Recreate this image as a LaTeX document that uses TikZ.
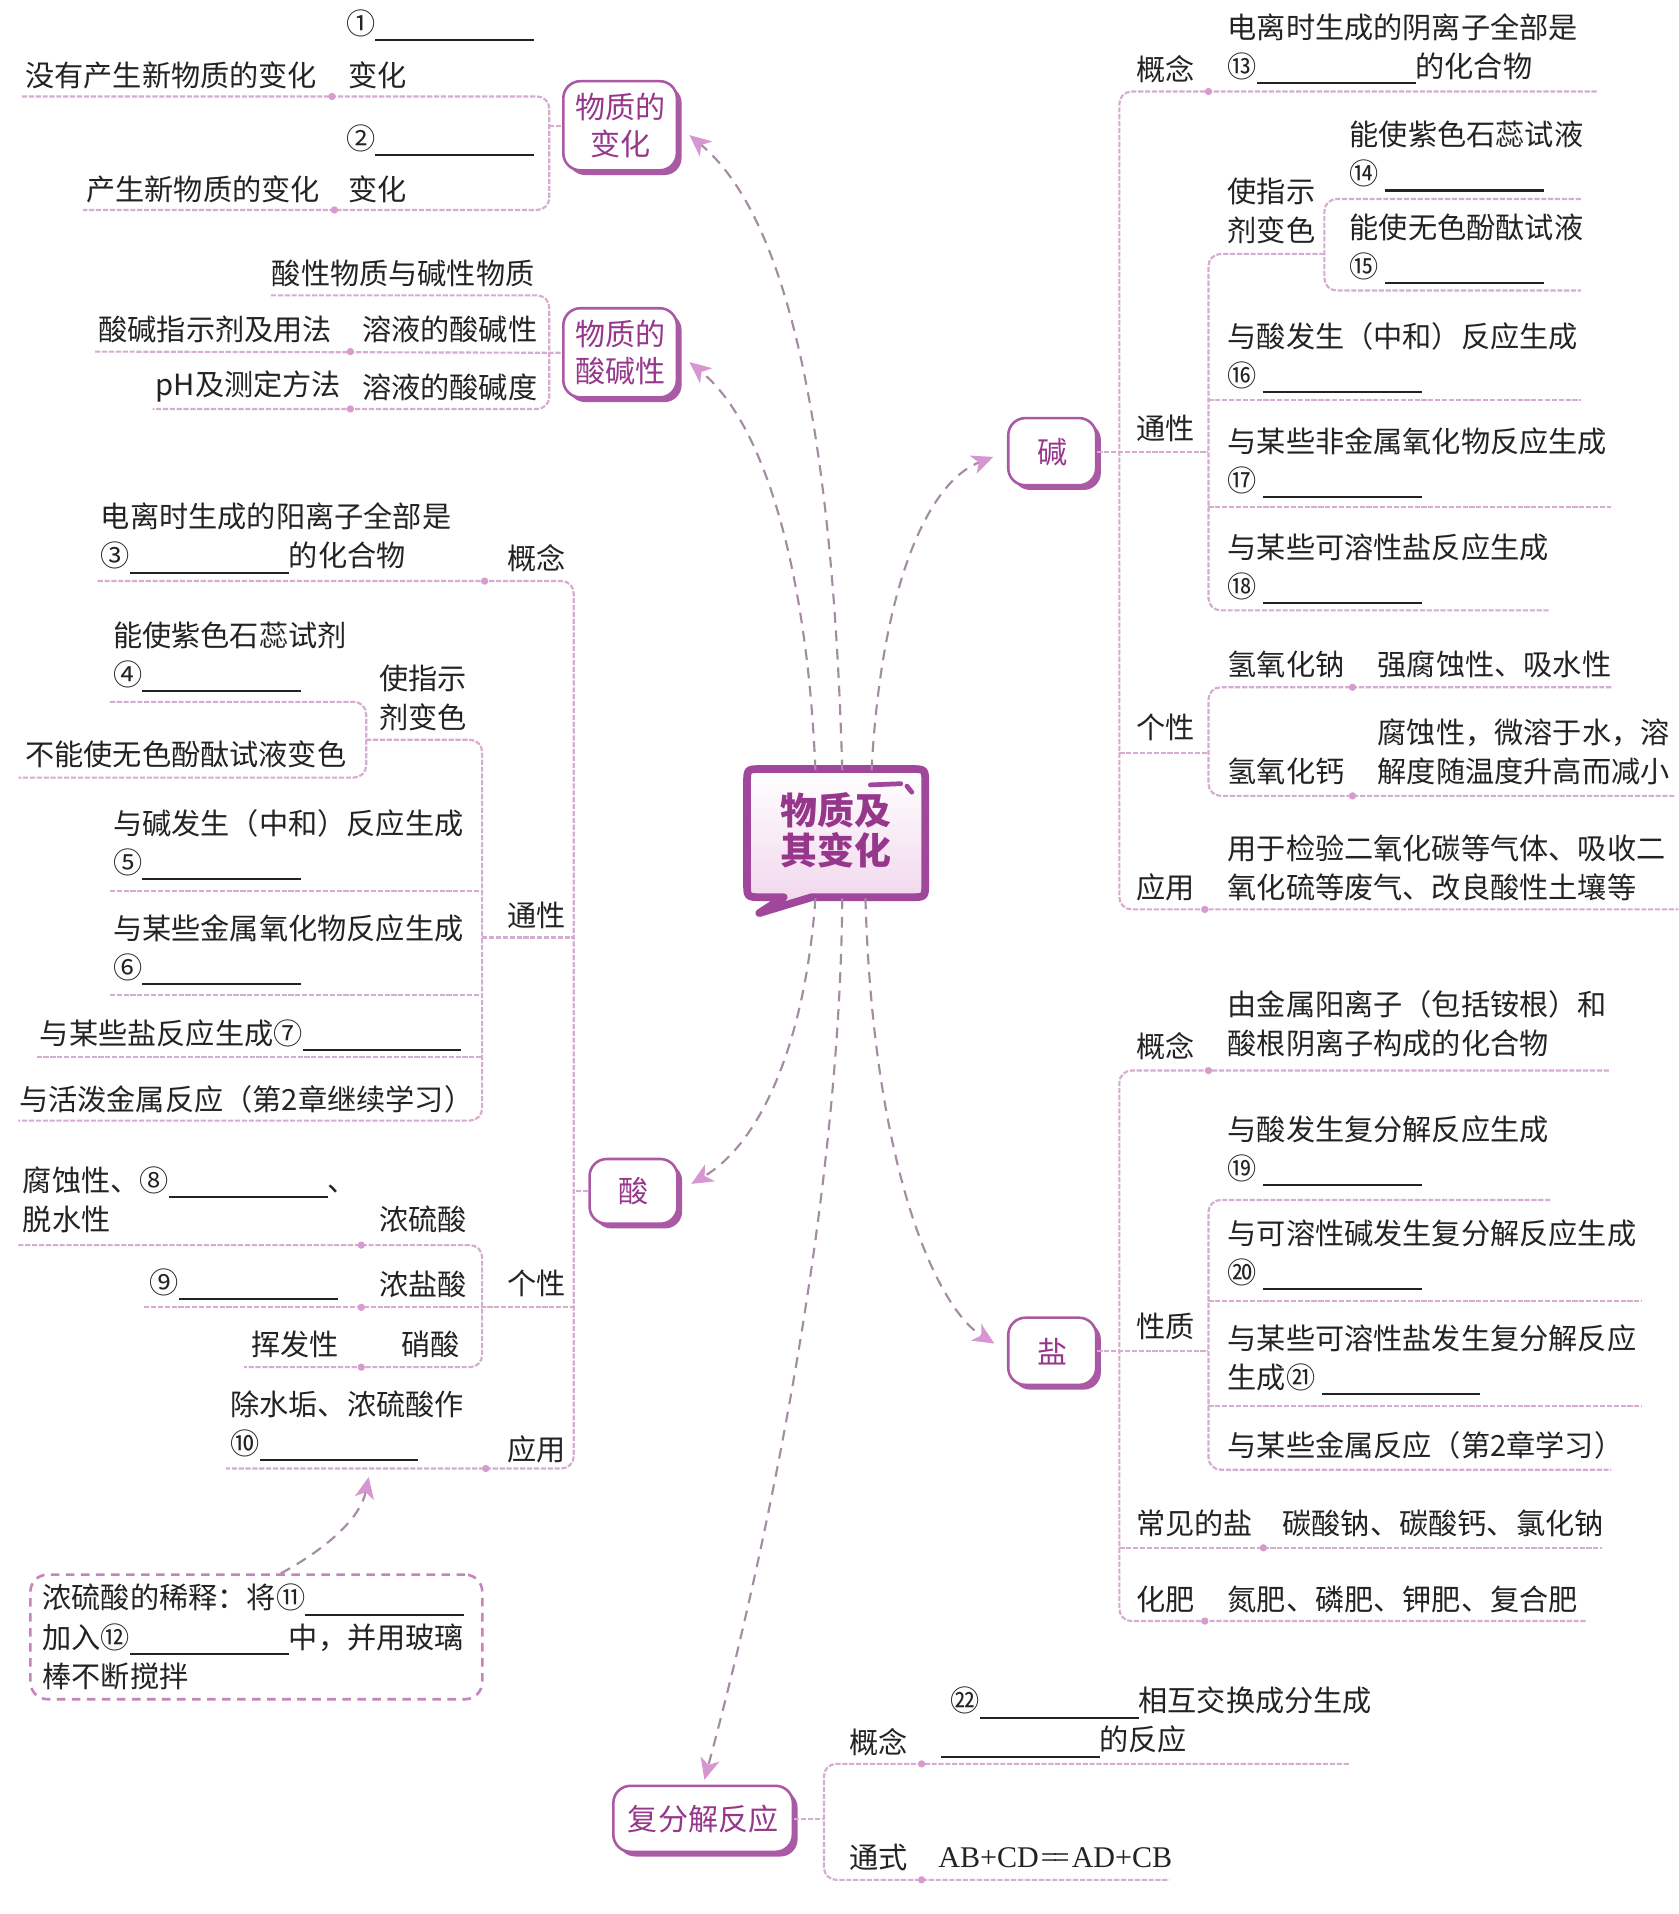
\documentclass[tikz,border=0pt]{standalone}
\usepackage{fontspec}
\setmainfont{Noto Sans CJK SC}
\newfontfamily\formulafont{Liberation Serif}
\usetikzlibrary{arrows.meta,shadows}

\definecolor{inkC}{RGB}{35,35,35}
\definecolor{titleC}{RGB}{150,55,140}
\definecolor{boxC}{RGB}{170,90,165}
\definecolor{bubC}{RGB}{160,70,155}
\definecolor{bandC}{RGB}{240,212,236}
\definecolor{lineC}{RGB}{214,172,208}
\definecolor{dotC}{RGB}{215,155,205}
\definecolor{arrC}{RGB}{165,140,165}
\definecolor{headC}{RGB}{215,150,210}
\definecolor{dilC}{RGB}{200,130,190}

\newcommand{\fillin}{\rule[-1.6pt]{1.3cm}{0.5pt}}

\begin{document}
\begin{tikzpicture}[
  x=0.01cm, y=-0.01cm,
  txt/.style={anchor=west, inner sep=0pt, align=left, text=inkC, font=\fontsize{6.8pt}{9.1pt}\selectfont},
  catbox/.style={draw=boxC, line width=0.6pt, rounded corners=4pt, fill=white, text=titleC, align=center, inner sep=0pt,
    font=\fontsize{7pt}{8.6pt}\selectfont, drop shadow={shadow xshift=1.1pt, shadow yshift=-1.1pt, fill=boxC, opacity=1}},
  branch/.style={draw=lineC, line width=0.5pt, dash pattern=on 1.2pt off 0.4pt, rounded corners=0.1cm},
  link/.style={draw=arrC, line width=0.5pt, dash pattern=on 2.5pt off 1.8pt,
    -{Stealth[length=5pt, width=4.5pt, inset=1.4pt, color=headC, fill=headC]}},
]
\fill[white] (0,0) rectangle (1375,1568);
\useasboundingbox (0,0) rectangle (1375,1568);

% --- center ---
\draw[line width=1.8pt, draw=bubC, line join=round, top color=white, middle color=white, bottom color=bandC]
  (624,630) -- (746,630) .. controls (758,630) .. (758,642) -- (758,723) .. controls (758,735) .. (746,735)
  -- (665,735) -- (622,748) -- (642,735) -- (624,735) .. controls (612,735) .. (612,723)
  -- (612,642) .. controls (612,630) .. (624,630) -- cycle;
\draw[bubC, line width=1.1pt, line cap=round] (713,643) -- (738,642);
\draw[bubC, line width=1.1pt, line cap=round] (743,644) -- (747,649);
\node[text=titleC, align=center, font=\bfseries\fontsize{8.6pt}{9.4pt}\selectfont] (core) at (685,680) {物质及\\其变化};
\coordinate (up1) at (668,631);
\coordinate (up2) at (690,631);
\coordinate (up3) at (714,631);
\coordinate (dn1) at (668,736);
\coordinate (dn2) at (690,736);
\coordinate (dn3) at (709,736);

% --- 物质的变化 ---
\node[catbox, minimum width=0.93cm, minimum height=0.73cm] (chg) at (508,103) {物质的\\变化};
\node[txt] (chgN1) at (283,21) {①\fillin};
\node[txt] (chgPhy) at (20,62) {没有产生新物质的变化};
\node[txt] (chgPhyL) at (285,62) {变化};
\node[txt] (chgN2) at (283,115) {②\fillin};
\node[txt] (chgChem) at (70,155) {产生新物质的变化};
\node[txt] (chgChemL) at (285,155) {变化};
\draw[branch] (18,79) -- (450,79) -- (450,172) -- (68,172);
\draw[branch] (450,103) -- (chg.west);

% --- 物质的酸碱性 ---
\node[catbox, minimum width=0.93cm, minimum height=0.73cm] (ab) at (508,289) {物质的\\酸碱性};
\node[txt] (abTop) at (222,224) {酸性物质与碱性物质};
\node[txt] (abInd) at (80,270) {酸碱指示剂及用法};
\node[txt] (abIndL) at (296,270) {溶液的酸碱性};
\node[txt] (abPh) at (127,317) {pH及测定方法};
\node[txt] (abPhL) at (296,317) {溶液的酸碱度};
\draw[branch] (222,242) -- (450,242) -- (450,335) -- (125,335);
\draw[branch] (78,288) -- (ab.west);

% --- 酸 ---
\node[catbox, minimum width=0.72cm, minimum height=0.53cm] (acid) at (519,976) {酸};
\node[txt] (acDef) at (82,441) {电离时生成的阳离子全部是\\③\fillin 的化合物};
\node[txt] (acDefL) at (415,457) {概念};
\node[txt] (acInd1) at (92,538) {能使紫色石蕊试剂\\④\fillin};
\node[txt] (acIndL) at (310,572) {使指示\\剂变色};
\node[txt] (acInd2) at (20,618) {不能使无色酚酞试液变色};
\node[txt] (acP1) at (92,692) {与碱发生（中和）反应生成\\⑤\fillin};
\node[txt] (acP2) at (92,778) {与某些金属氧化物反应生成\\⑥\fillin};
\node[txt] (acP3) at (32,848) {与某些盐反应生成⑦\fillin};
\node[txt] (acP4) at (15,901) {与活泼金属反应（第2章继续学习）};
\node[txt] (acPL) at (415,750) {通性};
\node[txt] (acS1) at (18,983) {腐蚀性、⑧\fillin、\\脱水性};
\node[txt] (acS1L) at (310,999) {浓硫酸};
\node[txt] (acS2) at (122,1052) {⑨\fillin};
\node[txt] (acS2L) at (310,1052) {浓盐酸};
\node[txt] (acS3) at (205,1101) {挥发性};
\node[txt] (acS3L) at (328,1101) {硝酸};
\node[txt] (acSL) at (415,1051) {个性};
\node[txt] (acU) at (188,1168) {除水垢、浓硫酸作\\⑩\fillin};
\node[txt] (acUL) at (415,1187) {应用};
\draw[branch] (80,476) -- (470,476) -- (470,1203) -- (185,1203);
\draw[branch] (90,575) -- (300,575) -- (300,637) -- (15,637);
\draw[branch] (300,606) -- (395,606) -- (395,918) -- (15,918);
\draw[branch] (90,730) -- (395,730);
\draw[branch] (90,815) -- (395,815);
\draw[branch] (30,866) -- (395,866);
\draw[branch] (395,768) -- (470,768);
\draw[branch] (15,1020) -- (395,1020) -- (395,1120) -- (200,1120);
\draw[branch] (118,1071) -- (470,1071);
\draw[branch] (acid.west) -- (470,976);

% dilution note
\node[draw=dilC, line width=0.6pt, dash pattern=on 2pt off 1.5pt, rounded corners=4pt, txt, anchor=center,
  text width=3.5cm, inner xsep=0.1cm, inner ysep=0.07cm, minimum height=1.02cm] (dil) at (210,1341)
  {浓硫酸的稀释：将⑪\fillin\\加入⑫\fillin 中，并用玻璃\\棒不断搅拌};
\coordinate (dilTop) at (230,1289);
\coordinate (useEnd) at (302,1210);
\draw[link] (dilTop) .. controls (265,1270) and (295,1245) .. (useEnd);

% --- 碱 ---
\node[catbox, minimum width=0.72cm, minimum height=0.55cm] (base) at (862,370) {碱};
\node[txt] (baDefL) at (930,57) {概念};
\node[txt] (baDef) at (1005,40) {电离时生成的阴离子全部是\\⑬\fillin 的化合物};
\node[txt] (baIndL) at (1005,173) {使指示\\剂变色};
\node[txt] (baInd1) at (1105,128) {能使紫色石蕊试液\\⑭\hspace{1.5pt}\fillin};
\node[txt] (baInd2) at (1105,204) {能使无色酚酞试液\\⑮\hspace{1.5pt}\fillin};
\node[txt] (baP1) at (1005,293) {与酸发生（中和）反应生成\\⑯\hspace{1.5pt}\fillin};
\node[txt] (baP2) at (1005,379) {与某些非金属氧化物反应生成\\⑰\hspace{1.5pt}\fillin};
\node[txt] (baP3) at (1005,466) {与某些可溶性盐反应生成\\⑱\hspace{1.5pt}\fillin};
\node[txt] (baPL) at (930,351) {通性};
\node[txt] (baS1) at (1005,544) {氢氧化钠};
\node[txt] (baS1t) at (1128,544) {强腐蚀性、吸水性};
\node[txt] (baS2) at (1005,632) {氢氧化钙};
\node[txt] (baS2t) at (1128,616) {腐蚀性，微溶于水，溶\\解度随温度升高而减小};
\node[txt] (baSL) at (930,596) {个性};
\node[txt] (baU) at (1005,711) {用于检验二氧化碳等气体、吸收二\\氧化硫等废气、改良酸性土壤等};
\node[txt] (baUL) at (930,727) {应用};
\draw[branch] (1308,75) -- (917,75) -- (917,745) -- (1375,745);
\draw[branch] (base.east) -- (990,370);
\draw[branch] (1085,208) -- (990,208) -- (990,500) -- (1270,500);
\draw[branch] (1295,163) -- (1085,163) -- (1085,238) -- (1295,238);
\draw[branch] (990,328) -- (1295,328);
\draw[branch] (990,415) -- (1320,415);
\draw[branch] (917,617) -- (990,617);
\draw[branch] (1320,563) -- (990,563) -- (990,652) -- (1372,652);

% --- 盐 ---
\node[catbox, minimum width=0.72cm, minimum height=0.55cm] (salt) at (862,1107) {盐};
\node[txt] (saDefL) at (930,857) {概念};
\node[txt] (saDef) at (1005,839) {由金属阳离子（包括铵根）和\\酸根阴离子构成的化合物};
\node[txt] (saP1) at (1005,943) {与酸发生复分解反应生成\\⑲\hspace{1.5pt}\fillin};
\node[txt] (saP2) at (1005,1028) {与可溶性碱发生复分解反应生成\\⑳\hspace{1.5pt}\fillin};
\node[txt] (saP3) at (1005,1114) {与某些可溶性盐发生复分解反应\\生成㉑\hspace{1.5pt}\fillin};
\node[txt] (saP4) at (1005,1184) {与某些金属反应（第2章学习）};
\node[txt] (saPL) at (930,1087) {性质};
\node[txt] (saC) at (930,1248) {常见的盐};
\node[txt] (saCt) at (1050,1248) {碳酸钠、碳酸钙、氯化钠};
\node[txt] (saF) at (930,1310) {化肥};
\node[txt] (saFt) at (1005,1310) {氮肥、磷肥、钾肥、复合肥};
\draw[branch] (1318,877) -- (917,877) -- (917,1328) -- (1300,1328);
\draw[branch] (salt.east) -- (990,1107);
\draw[branch] (1270,983) -- (990,983) -- (990,1204) -- (1320,1204);
\draw[branch] (990,1066) -- (1345,1066);
\draw[branch] (990,1152) -- (1345,1152);
\draw[branch] (917,1268) -- (1312,1268);

% --- 复分解反应 ---
\node[catbox, minimum width=1.47cm, minimum height=0.54cm] (dr) at (576,1490) {复分解反应};
\node[txt] (drD1) at (778,1395) {㉒\fillin 相互交换成分生成};
\node[txt] (drDL) at (695,1427) {概念};
\node[txt] (drD2) at (770,1427) {\fillin 的反应};
\node[txt] (drFL) at (695,1522) {通式};
\node[txt, font=\formulafont\fontsize{7pt}{9pt}\selectfont] (drF) at (768,1522) {AB+CD\kern0.5pt=\kern-1.2pt=\kern0.5pt AD+CB};
\draw[branch] (1105,1445) -- (675,1445) -- (675,1540) -- (958,1540);
\draw[branch] (dr.east) -- (675,1490);

% dots on branches
\foreach \p in {(272,79),(274,172),(287,288),(287,335),(397,476),(296,1020),(296,1071),(296,1120),(398,1203),
  (990,75),(1108,563),(1108,652),(987,745),(990,877),(1035,1268),(987,1328),(755,1445),(755,1540)}
  \fill[dotC] \p circle[radius=0.03cm];

% --- links from center ---
\draw[link, shorten >=0.12cm] (up2) .. controls (684,420) and (660,190) .. (chg.east);
\draw[link, shorten >=0.12cm] (up1) .. controls (662,480) and (630,350) .. (ab.east);
\draw[link, shorten >=0.12cm] (up3) .. controls (722,480) and (760,395) .. (base.west);
\draw[link, shorten >=0.12cm] (dn1) .. controls (660,850) and (625,935) .. (acid.east);
\draw[link, shorten >=0.04cm] (dn2) .. controls (688,1000) and (620,1300) .. (dr.north);
\draw[link, shorten >=0.12cm] (dn3) .. controls (715,950) and (765,1070) .. (salt.west);
\end{tikzpicture}
\end{document}
